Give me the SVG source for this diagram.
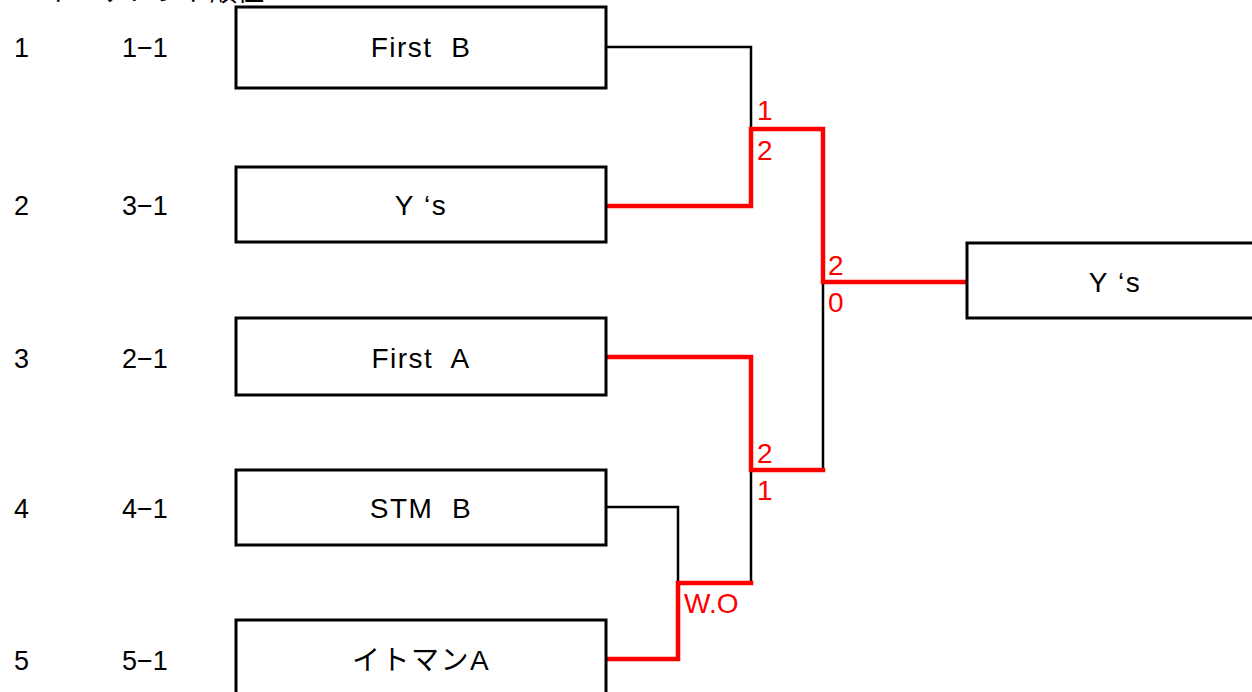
<svg xmlns="http://www.w3.org/2000/svg" width="1252" height="692" viewBox="0 0 1252 692">
<style>
text{font-family:"Liberation Sans","Noto Sans CJK JP",sans-serif;font-size:27px;fill:#000}
.name{text-anchor:middle;font-size:28px;letter-spacing:1.5px}
.score{fill:#ff0000;font-size:28px}
.box{fill:#fff;stroke:#000;stroke-width:3}
.lose{fill:none;stroke:#000;stroke-width:2.5}
.win{fill:none;stroke:#ff0000;stroke-width:4.5;stroke-linejoin:miter;stroke-linecap:square}
</style>
<rect width="1252" height="692" fill="#fff"/>
<text x="48" y="1" font-size="24">トーナメント順位</text>
<g id="seeds">
<text x="14" y="57">1</text><text x="122" y="57">1−1</text>
<text x="14" y="215">2</text><text x="122" y="215">3−1</text>
<text x="14" y="368">3</text><text x="122" y="368">2−1</text>
<text x="14" y="518">4</text><text x="122" y="518">4−1</text>
<text x="14" y="670">5</text><text x="122" y="670">5−1</text>
</g>
<g id="connectors">
<polyline class="lose" points="606,47 751,47 751,129"/>
<polyline class="lose" points="823,282 823,470"/>
<polyline class="lose" points="606,507 678,507 678,583"/>
<polyline class="lose" points="751,470 751,583"/>
<polyline class="win" points="606,206 751,206 751,129 823,129 823,282 968,282"/>
<polyline class="win" points="606,357 751,357 751,470 823,470"/>
<polyline class="win" points="606,659 678,659 678,583 751,583"/>
</g>
<g id="scores">
<text class="score" x="757" y="120">1</text>
<text class="score" x="757" y="160">2</text>
<text class="score" x="828" y="275">2</text>
<text class="score" x="828" y="312">0</text>
<text class="score" x="757" y="463">2</text>
<text class="score" x="757" y="500">1</text>
<text class="score" x="684" y="613" font-size="26">W.O</text>
</g>
<g id="team1"><rect class="box" x="236" y="7" width="370" height="81"/><text class="name" x="421" y="57" xml:space="preserve">First  B</text></g>
<g id="team2"><rect class="box" x="236" y="167" width="370" height="75"/><text class="name" x="421" y="215">Y<tspan dx="9">‘</tspan>s</text></g>
<g id="team3"><rect class="box" x="236" y="318" width="370" height="77"/><text class="name" x="421" y="368" xml:space="preserve">First  A</text></g>
<g id="team4"><rect class="box" x="236" y="470" width="370" height="75"/><text class="name" x="421" y="518" xml:space="preserve">STM  B</text></g>
<g id="team5"><rect class="box" x="236" y="620" width="370" height="90"/><text class="name" x="421" y="670">イトマンA</text></g>
<g id="winner"><rect class="box" x="967" y="243" width="320" height="75"/><text class="name" x="1115" y="292">Y<tspan dx="9">‘</tspan>s</text></g>
</svg>
